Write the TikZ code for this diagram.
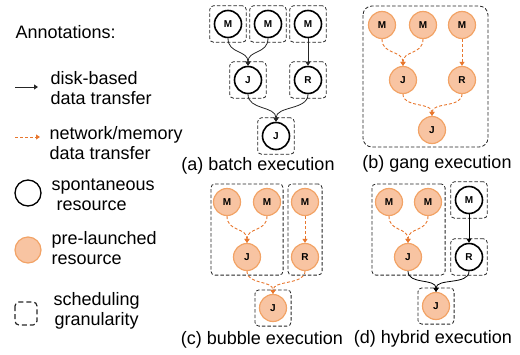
\documentclass[tikz,border=0pt]{standalone}
\usepackage{fontspec}
\setmainfont{Liberation Sans}
\usetikzlibrary{arrows.meta,fit}

\definecolor{peach}{HTML}{F8C4A2}
\definecolor{peachline}{HTML}{F2A366}
\definecolor{flow}{HTML}{E8772E}

\tikzset{
  spont/.style={circle, draw=black, line width=1.6pt, minimum size=27pt, inner sep=0pt,
    font=\fontsize{10}{10}\selectfont\bfseries},
  prel/.style={circle, draw=peachline, fill=peach, line width=1.2pt, minimum size=27pt, inner sep=0pt,
    font=\fontsize{10}{10}\selectfont\bfseries},
  disk/.style={draw=black!85, line width=0.8pt, -{Triangle[width=5pt,length=4pt]}},
  net/.style={draw=flow, line width=0.9pt, dash pattern=on 3pt off 2pt, -{Triangle[width=5pt,length=4pt]}},
  gran/.style={draw=black!85, line width=0.8pt, dash pattern=on 3.5pt off 2pt, rounded corners=4pt, inner sep=4pt},
  legtext/.style={anchor=west, align=left},
  subcap/.style={anchor=center}
}

\begin{document}
\begin{tikzpicture}[x=1pt,y=-1pt,font=\fontsize{18}{20.5}\selectfont]
\useasboundingbox (0,0) rectangle (520,354);

% legend
\node[anchor=west] (ann) at (12,32) {Annotations:};
\coordinate (ldisk0) at (15,87);
\coordinate (ldisk1) at (38,87);
\draw[disk, line width=1pt] (ldisk0) -- (ldisk1);
\node[legtext] (tdisk) at (47,88) {disk-based\\data transfer};
\coordinate (lnet0) at (15,137);
\coordinate (lnet1) at (40,137);
\draw[net, line width=1pt] (lnet0) -- (lnet1);
\node[legtext] (tnet) at (46,143) {network/memory\\data transfer};
\draw[black, line width=1.3pt] (28,193) circle (13);
\node[legtext] (tspont) at (48,195) {spontaneous\\\hspace{5pt}resource};
\draw[draw=peachline, fill=peach, line width=1.2pt] (28,250) circle (13);
\node[legtext] (tprel) at (48,248) {pre-launched\\resource};
\draw[gran, line width=1.2pt, dash pattern=on 5pt off 3pt] (15,302) rectangle (37,325);
\node[legtext] (tgran) at (50,311) {scheduling\\\hspace{1pt}granularity};

% (a) batch execution
\node[spont] (a-m1) at (228,24) {M};
\node[spont] (a-m2) at (268,24) {M};
\node[spont] (a-m3) at (308,24) {M};
\node[spont] (a-j1) at (248,80) {J};
\node[spont] (a-r) at (308,80) {R};
\node[spont] (a-j2) at (276,136) {J};
\foreach \n in {a-m1,a-m2,a-m3,a-j1,a-r,a-j2}
  \node[gran, fit=(\n)] (box-\n) {};
\draw[disk] (a-m1.south) .. controls +(0,16) and +(0,-16) .. (a-j1.north);
\draw[disk] (a-m2.south) .. controls +(0,16) and +(0,-16) .. (a-j1.north);
\draw[disk] (a-m3) -- (a-r);
\draw[disk] (a-j1.south) .. controls +(0,16) and +(0,-16) .. (a-j2.north);
\draw[disk] (a-r.south) .. controls +(0,16) and +(0,-16) .. (a-j2.north);
\node[subcap] (cap-a) at (258,166) {(a) batch execution};

% (b) gang execution
\node[prel] (b-m1) at (382,25) {M};
\node[prel] (b-m2) at (423,25) {M};
\node[prel] (b-m3) at (462,25) {M};
\node[prel] (b-j1) at (403,80) {J};
\node[prel] (b-r) at (462,80) {R};
\node[prel] (b-j2) at (432,130) {J};
\draw[gran, rounded corners=9pt] (363,6) rectangle (488,147);
\draw[net] (b-m1.south) .. controls +(0,16) and +(0,-16) .. (b-j1.north);
\draw[net] (b-m2.south) .. controls +(0,16) and +(0,-16) .. (b-j1.north);
\draw[net] (b-m3) -- (b-r);
\draw[net] (b-j1.south) .. controls +(0,14) and +(0,-14) .. (b-j2.north);
\draw[net] (b-r.south) .. controls +(0,14) and +(0,-14) .. (b-j2.north);
\node[subcap] (cap-b) at (437,164) {(b) gang execution};

% (c) bubble execution
\node[prel] (c-m1) at (227,202) {M};
\node[prel] (c-m2) at (267,202) {M};
\node[prel] (c-m3) at (305,202) {M};
\node[prel] (c-j1) at (247,257) {J};
\node[prel] (c-r) at (305,257) {R};
\node[prel] (c-j2) at (273,308) {J};
\node[gran, fit=(c-m1)(c-m2)(c-j1), inner xsep=2pt] (box-c1) {};
\node[gran, fit=(c-m3)(c-r), inner xsep=3pt] (box-c2) {};
\node[gran, fit=(c-j2)] (box-c3) {};
\draw[net] (c-m1.south) .. controls +(0,16) and +(0,-16) .. (c-j1.north);
\draw[net] (c-m2.south) .. controls +(0,16) and +(0,-16) .. (c-j1.north);
\draw[net] (c-m3) -- (c-r);
\draw[net] (c-j1.south) .. controls +(0,14) and +(0,-14) .. (c-j2.north);
\draw[net] (c-r.south) .. controls +(0,14) and +(0,-14) .. (c-j2.north);
\node[subcap] (cap-c) at (262,340) {(c) bubble execution};

% (d) hybrid execution
\node[prel] (d-m1) at (389,202) {M};
\node[prel] (d-m2) at (428,202) {M};
\node[spont] (d-m3) at (469,200) {M};
\node[prel] (d-j1) at (408,257) {J};
\node[spont] (d-r) at (469,257) {R};
\node[prel] (d-j2) at (436,306) {J};
\node[gran, fit=(d-m1)(d-m2)(d-j1), inner xsep=3pt] (box-d1) {};
\node[gran, fit=(d-m3)] (box-d2) {};
\node[gran, fit=(d-r)] (box-d3) {};
\node[gran, fit=(d-j2)] (box-d4) {};
\draw[net] (d-m1.south) .. controls +(0,16) and +(0,-16) .. (d-j1.north);
\draw[net] (d-m2.south) .. controls +(0,16) and +(0,-16) .. (d-j1.north);
\draw[disk, draw=black] (d-m3) -- (d-r);
\draw[disk, draw=black] (d-j1.south) .. controls +(0,14) and +(0,-14) .. (d-j2.north);
\draw[disk, draw=black] (d-r.south) .. controls +(0,14) and +(0,-14) .. (d-j2.north);
\node[subcap] (cap-d) at (433,339) {(d) hybrid execution};
\end{tikzpicture}
\end{document}
